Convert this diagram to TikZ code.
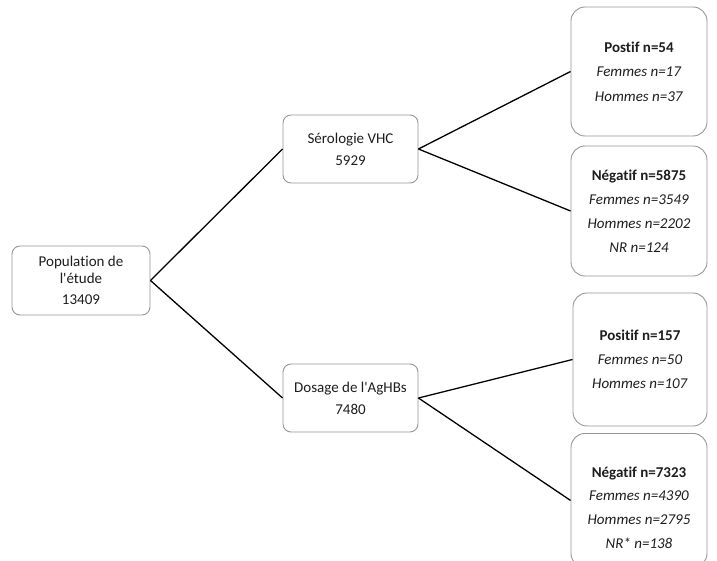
\documentclass[tikz,border=0pt]{standalone}
\usepackage{fontspec}
\setmainfont{Carlito}[Ligatures={NoCommon}]
\begin{document}
\begin{tikzpicture}[x=1pt,y=-1pt,
  box/.style={draw=boxgray, line width=0.9pt, fill=white, rounded corners=8pt, inner sep=0pt, text=txt, align=center, font=\fontsize{15}{22}\selectfont},
  bigbox/.style={box, rounded corners=14pt},
  link/.style={draw=black, line width=1.3pt}]
\definecolor{boxgray}{RGB}{150,150,150}
\definecolor{txt}{RGB}{30,30,30}
\useasboundingbox (0,0) rectangle (717,561);
\begin{scope}
\clip (0,0) rectangle (717,561);
\node[box, minimum width=138pt, minimum height=69pt, font=\fontsize{15}{17}\selectfont] (pop) at (81,280.5) {Population de\\ l\textquotesingle étude\\[4pt] 13409};
\node[box, minimum width=135pt, minimum height=68pt] (vhc) at (350.5,149) {Sérologie VHC\\ 5929};
\node[box, minimum width=135pt, minimum height=68pt] (hbs) at (350.5,398) {Dosage de l\textquotesingle AgHBs\\ 7480};
\node[bigbox, minimum width=136pt, minimum height=129pt, font=\fontsize{15}{24.5}\selectfont] (p1) at (639,71.5) {\textbf{Postif n=54}\\ \textit{Femmes n=17}\\ \textit{Hommes n=37}};
\node[bigbox, minimum width=136pt, minimum height=130pt, font=\fontsize{15}{24}\selectfont] (n1) at (639,211) {\textbf{Négatif n=5875}\\ \textit{Femmes n=3549}\\ \textit{Hommes n=2202}\\ \textit{NR n=124}};
\node[bigbox, minimum width=134pt, minimum height=133pt, font=\fontsize{15}{24}\selectfont] (p2) at (640,359.5) {\textbf{Positif n=157}\\ \textit{Femmes n=50}\\ \textit{Hommes n=107}};
\node[bigbox, minimum width=136pt, minimum height=134pt, font=\fontsize{15}{23.7}\selectfont, anchor=north] (n2) at (639,433) {};
\node[txt, align=center, font=\fontsize{15}{23.7}\selectfont, inner sep=0pt] (n2t) at (639,507.5) {\textbf{Négatif n=7323}\\ \textit{Femmes n=4390}\\ \textit{Hommes n=2795}\\ \textit{NR* n=138}};
\end{scope}
\draw[link] (pop.east) -- (vhc.west);
\draw[link] (pop.east) -- (hbs.west);
\draw[link] (vhc.east) -- (p1.west);
\draw[link] (vhc.east) -- (n1.west);
\draw[link] (hbs.east) -- (p2.west);
\draw[link] (hbs.east) -- (n2.west);
\end{tikzpicture}
\end{document}
